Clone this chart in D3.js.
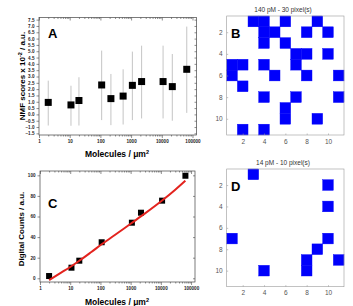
<!DOCTYPE html>
<html>
<head>
<meta charset="utf-8">
<script src="https://cdn.jsdelivr.net/npm/d3@7"></script>
<style>
  body { margin: 0; background: #fff; }
  svg { display: block; font-family: "Liberation Sans", Arial, sans-serif; }
  .tk text { font-size: 4.6px; font-weight: bold; fill: #222; }
  .tk path, .tk line { stroke: #444; stroke-width: 0.6; }
  .mx text { font-size: 6.5px; fill: #555; }
  .mx path, .mx line { stroke: #999; stroke-width: 0.6; }
</style>
</head>
<body>
<svg id="chart" width="353" height="306"></svg>
<script>
// panel A: NMF scores vs concentration
var aX = [2, 11, 20, 110, 220, 550, 1100, 2200, 11000, 22000, 65000];
var aY = [0.95, 0.75, 1.1, 2.33, 1.25, 1.45, 2.3, 2.6, 2.6, 2.2, 3.57];
var aLow = [-0.88, -0.9, -0.88, -0.45, -0.85, -0.8, -0.45, -0.32, -0.32, -0.5, 0.12];
var aHigh = [2.67, 2.27, 2.94, 5.05, 3.2, 3.57, 4.97, 5.44, 5.44, 4.78, 6.95];
var aTicks = [-1.5, -1.0, -0.5, 0.0, 0.5, 1.0, 1.5, 2.0, 2.5, 3.0, 3.5, 4.0, 4.5, 5.0, 5.5, 6.0, 6.5, 7.0, 7.5];

// panel C: digital counts vs concentration
var cX = [2, 11, 20, 110, 1100, 2200, 11000, 65000];
var cY = [2.2, 10.3, 17.1, 35, 54, 63.7, 75.4, 99.6];
var fitX = [2, 5, 10, 20, 50, 110, 300, 1000, 3000, 11000, 30000, 65000];
var fitY = [-1.7, 5.5, 11, 17, 25.5, 33, 42, 53, 63, 75.5, 86, 94.8];
var cTicks = [0, 20, 40, 60, 80, 100];

var logTicks = [1, 10, 100, 1000, 10000, 100000];

// panels B and D: binary pixel maps (column, row)
var bCells = [[3,1],[4,1],[6,1],[9,1],[4,2],[5,2],[8,2],[10,2],[4,3],[6,3],
  [7,4],[8,4],[10,4],[1,5],[2,5],[4,5],[7,5],[1,6],[5,6],[8,6],[11,6],
  [2,7],[4,8],[7,8],[11,8],[6,9],[6,10],[9,10],[2,11],[4,11]];
var dCells = [[3,1],[10,2],[10,4],[1,7],[10,7],[9,8],[8,9],[8,10],[11,9],[4,10]];
var mapTicks = [2, 4, 6, 8, 10];

var svg = d3.select("#chart");

// log x panel with frame, minor ticks on all sides
function logPanel(x, y, yTicks, fmt) {
  var g = svg.append("g");
  var x0 = x.range()[0], x1 = x.range()[1];
  var y0 = y.range()[0], y1 = y.range()[1];
  var minor = [];
  for (var e = 0; e < 6; e++) for (var m = 2; m < 10; m++) {
    var v = m * Math.pow(10, e);
    if (v < x.domain()[1]) minor.push(v);
  }
  g.append("g").attr("class", "tk").attr("transform", "translate(0," + y0 + ")")
    .call(d3.axisBottom(x).tickValues(minor).tickSize(1.5).tickFormat(""));
  g.append("g").attr("class", "tk").attr("transform", "translate(0," + y0 + ")")
    .call(d3.axisBottom(x).tickValues(logTicks).tickSize(3).tickPadding(2).tickFormat(d3.format("d")));
  g.append("g").attr("class", "tk").attr("transform", "translate(0," + y1 + ")")
    .call(d3.axisBottom(x).tickValues(minor).tickSize(1.5).tickFormat(""));
  g.append("g").attr("class", "tk").attr("transform", "translate(0," + y1 + ")")
    .call(d3.axisBottom(x).tickValues(logTicks).tickSize(3).tickFormat(""));
  g.append("g").attr("class", "tk").attr("transform", "translate(" + x0 + ",0)")
    .call(d3.axisLeft(y).tickValues(yTicks).tickSize(2.5).tickPadding(2).tickFormat(fmt));
  g.append("g").attr("class", "tk").attr("transform", "translate(" + x1 + ",0)")
    .call(d3.axisLeft(y).tickValues(yTicks).tickSize(2).tickFormat(""));
  g.selectAll(".domain").remove();
  g.append("rect").attr("x", x0).attr("y", y1).attr("width", x1 - x0).attr("height", y0 - y1)
    .attr("fill", "none").attr("stroke", "#444").attr("stroke-width", 0.7);
  return g;
}

// ---- panel A
var xA = d3.scaleLog().domain([1, 135000]).range([39, 196.5]);
var yA = d3.scaleLinear().domain([-1.63, 7.67]).range([135, 17.5]);
var gA = logPanel(xA, yA, aTicks, d3.format(".1f"));
gA.selectAll(".bar").data(aX).enter().append("line")
  .attr("x1", function(d) { return xA(d); }).attr("x2", function(d) { return xA(d); })
  .attr("y1", function(d, i) { return yA(aLow[i]); })
  .attr("y2", function(d, i) { return yA(aHigh[i]); })
  .attr("stroke", "#b5b5b5").attr("stroke-width", 0.8);
gA.selectAll(".pt").data(aX).enter().append("rect")
  .attr("x", function(d) { return xA(d) - 3.5; })
  .attr("y", function(d, i) { return yA(aY[i]) - 3.5; })
  .attr("width", 7).attr("height", 7).attr("fill", "#000");
svg.append("text").attr("x", 48).attr("y", 38).attr("font-size", 13).attr("font-weight", "bold").text("A");
svg.append("text").attr("transform", "translate(25,76) rotate(-90)").attr("text-anchor", "middle")
  .attr("font-size", 8).attr("font-weight", "bold")
  .html('NMF scores x 10<tspan dy="-3" font-size="5.5">-2</tspan><tspan dy="3"> / a.u.</tspan>');
svg.append("text").attr("x", 117).attr("y", 157).attr("text-anchor", "middle")
  .attr("font-size", 8.5).attr("font-weight", "bold")
  .html('Molecules / \u03bcm<tspan dy="-3.5" font-size="5.5">2</tspan>');

// ---- panel C
var xC = d3.scaleLog().domain([1, 135000]).range([40, 195]);
var yC = d3.scaleLinear().domain([-3.6, 104.2]).range([282, 171]);
var gC = logPanel(xC, yC, cTicks, d3.format("d"));
gC.selectAll(".pt").data(cX).enter().append("rect")
  .attr("x", function(d) { return xC(d) - 3; })
  .attr("y", function(d, i) { return yC(cY[i]) - 3; })
  .attr("width", 6).attr("height", 6).attr("fill", "#000");
var fitLine = d3.line()
  .x(function(d) { return xC(d); })
  .y(function(d, i) { return yC(fitY[i]); })
  .curve(d3.curveMonotoneX);
gC.append("path").datum(fitX).attr("d", fitLine)
  .attr("fill", "none").attr("stroke", "#e3231e").attr("stroke-width", 2);
svg.append("text").attr("x", 48).attr("y", 208).attr("font-size", 13).attr("font-weight", "bold").text("C");
svg.append("text").attr("transform", "translate(24,229) rotate(-90)").attr("text-anchor", "middle")
  .attr("font-size", 8).attr("font-weight", "bold").text("Digital Counts / a.u.");
svg.append("text").attr("x", 117).attr("y", 305).attr("text-anchor", "middle")
  .attr("font-size", 8.5).attr("font-weight", "bold")
  .html('Molecules / \u03bcm<tspan dy="-3.5" font-size="5.5">2</tspan>');

// ---- pixel maps
function mapPanel(cells, top, bottom, title, letter) {
  var x = d3.scaleLinear().domain([0.5, 11.5]).range([226.7, 344]);
  var y = d3.scaleLinear().domain([0.5, 11.5]).range([top, bottom]);
  var g = svg.append("g");
  g.selectAll(".cell").data(cells).enter().append("rect")
    .attr("x", function(d) { return x(d[0] - 0.5); })
    .attr("y", function(d) { return y(d[1] - 0.5); })
    .attr("width", x(1.5) - x(0.5)).attr("height", y(1.5) - y(0.5))
    .attr("fill", "#0000fb").attr("stroke", "#0000fb").attr("stroke-width", 0.4);
  g.append("g").attr("class", "mx").attr("transform", "translate(0," + bottom + ")")
    .call(d3.axisTop(x).tickValues(mapTicks).tickSize(1.5).tickFormat(""));
  g.append("g").attr("class", "mx").attr("transform", "translate(0," + bottom + ")")
    .call(d3.axisBottom(x).tickValues(mapTicks).tickSize(0).tickPadding(4));
  g.append("g").attr("class", "mx").attr("transform", "translate(226.7,0)")
    .call(d3.axisRight(y).tickValues(mapTicks).tickSize(1.5).tickFormat(""));
  g.append("g").attr("class", "mx").attr("transform", "translate(226.7,0)")
    .call(d3.axisLeft(y).tickValues(mapTicks).tickSize(0).tickPadding(4));
  g.selectAll(".domain").remove();
  g.append("rect").attr("x", 226.7).attr("y", top).attr("width", 344 - 226.7).attr("height", bottom - top)
    .attr("fill", "none").attr("stroke", "#999").attr("stroke-width", 0.6);
  g.append("text").attr("x", 283).attr("y", top - 4).attr("text-anchor", "middle")
    .attr("font-size", 6.5).attr("fill", "#333").text(title);
  g.append("text").attr("x", 231).attr("y", top + 22).attr("font-size", 13)
    .attr("font-weight", "bold").text(letter);
}
mapPanel(bCells, 16, 135, "140 pM - 30 pixel(s)", "B");
mapPanel(dCells, 169, 286.7, "14 pM - 10 pixel(s)", "D");
</script>
</body>
</html>
